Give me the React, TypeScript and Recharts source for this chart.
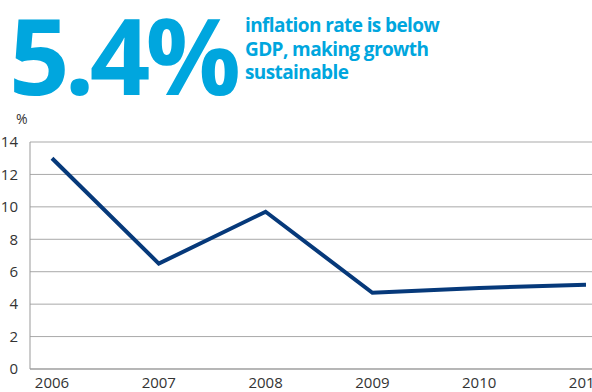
import React from 'react';
import { LineChart, Line, XAxis, YAxis, CartesianGrid } from 'recharts';

const years = ['2006', '2007', '2008', '2009', '2010', '2011'];
const inflation = [13.0, 6.5, 9.7, 4.7, 5.0, 5.2];
const yTicks = [0, 2, 4, 6, 8, 10, 12, 14];

const data = years.map((year, i) => ({ year, value: inflation[i] }));

const blue = '#00a6de';
const navy = '#06397a';
const textColor = '#333333';
const font = '"Open Sans", "Noto Sans", sans-serif';

const App: React.FC = () => {
  return (
    <div style={{ position: 'absolute', left: 0, top: 0, width: 592, height: 392, overflow: 'hidden', fontFamily: font }}>
      {/* headline */}
      <div
        style={{
          position: 'absolute',
          left: 9,
          top: 1,
          fontSize: 106,
          fontWeight: 700,
          color: blue,
          letterSpacing: -5,
          lineHeight: '106px',
          whiteSpace: 'nowrap',
        }}
      >
        5.4%
      </div>
      <div
        style={{
          position: 'absolute',
          left: 245,
          top: 14,
          fontSize: 19,
          fontWeight: 700,
          color: blue,
          letterSpacing: -0.6,
          lineHeight: '23.5px',
          whiteSpace: 'nowrap',
        }}
      >
        inflation rate is below
        <br />
        GDP, making growth
        <br />
        sustainable
      </div>
      <div style={{ position: 'absolute', left: 16, top: 111, fontSize: 14, lineHeight: '16px', color: textColor }}>%</div>

      <LineChart
        width={592}
        height={392}
        data={data}
        margin={{ top: 142, right: 0, left: 0, bottom: 0 }}
        style={{ position: 'absolute', left: 0, top: 0 }}
      >
        <CartesianGrid vertical={false} stroke="#a9a9a9" strokeWidth={1} />
        <XAxis
          dataKey="year"
          padding={{ left: 22, right: 6 }}
          axisLine={{ stroke: '#999999' }}
          tickLine={false}
          tick={{ fill: textColor, fontSize: 15, fontFamily: font }}
          tickMargin={2}
          interval={0}
          height={23}
        />
        <YAxis
          domain={[0, 14]}
          ticks={yTicks}
          width={30}
          axisLine={{ stroke: '#999999' }}
          tickLine={false}
          tick={{ fill: textColor, fontSize: 15, fontFamily: font }}
          tickMargin={6}
          interval={0}
        />
        <Line
          type="linear"
          dataKey="value"
          stroke={navy}
          strokeWidth={4}
          dot={false}
          isAnimationActive={false}
        />
      </LineChart>
    </div>
  );
};

export default App;
